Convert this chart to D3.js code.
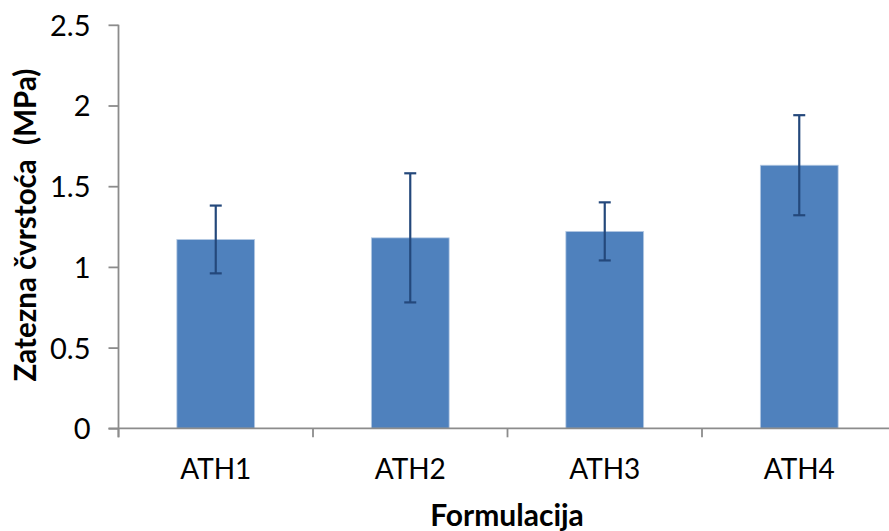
<!DOCTYPE html>
<html>
<head>
<meta charset="utf-8">
<script src="https://cdn.jsdelivr.net/npm/d3@7"></script>
<style>
  html, body { margin: 0; padding: 0; background: #fff; }
  svg { display: block; }
  text { font-family: Lato, "Open Sans", sans-serif; }
</style>
</head>
<body>
<svg id="chart" width="889" height="531"></svg>
<script>
// Tensile strength per formulation, with standard deviation
const categories = ["ATH1", "ATH2", "ATH3", "ATH4"];
const means = [1.17, 1.18, 1.22, 1.63];
const deviations = [0.21, 0.40, 0.18, 0.31];
const yTicks = [0, 0.5, 1, 1.5, 2, 2.5];
const yTitle = "Zatezna čvrstoća  (MPa)";
const xTitle = "Formulacija";

const data = categories.map((c, i) => ({ cat: c, mean: means[i], sd: deviations[i] }));

const svg = d3.select("#chart");
const plotLeft = 118.5, plotTop = 24.8, plotBottom = 428.3, step = 194.5;
const font = "Lato, 'Open Sans', sans-serif";

const x = d3.scaleBand()
  .domain(categories)
  .range([plotLeft, plotLeft + step * categories.length])
  .padding(0);

const y = d3.scaleLinear().domain([0, 2.5]).range([plotBottom, plotTop]);

const axisColor = "#8c8c8c";
const barW = x.bandwidth() * 0.4;

// bars
svg.append("g").selectAll("rect")
  .data(data)
  .join("rect")
  .attr("x", d => x(d.cat) + (x.bandwidth() - barW) / 2)
  .attr("y", d => y(d.mean))
  .attr("width", barW)
  .attr("height", d => y(0) - y(d.mean))
  .attr("fill", "#4f81bd")
  .attr("stroke", "#b7cbe4")
  .attr("stroke-width", 0.8);

// y axis
const yAxis = svg.append("g")
  .attr("transform", `translate(${plotLeft},0)`)
  .call(d3.axisLeft(y).tickValues(yTicks).tickSize(10).tickPadding(18)
    .tickFormat(d => String(d)));
yAxis.attr("font-family", font);
yAxis.select(".domain").attr("stroke", axisColor).attr("stroke-width", 1.8)
  .attr("d", `M0,${plotTop}V${plotBottom + 9}`);
yAxis.selectAll(".tick line").attr("stroke", axisColor).attr("stroke-width", 1.8);
yAxis.selectAll(".tick text")
  .attr("fill", "#000")
  .style("font-size", "29px")
  .attr("dy", "0.36em");

// x axis
const xAxis = svg.append("g")
  .attr("transform", `translate(0,${plotBottom})`)
  .call(d3.axisBottom(x).tickSize(0));
xAxis.attr("font-family", font);
xAxis.select(".domain").attr("stroke", axisColor).attr("stroke-width", 1.8)
  .attr("d", `M${plotLeft - 10},0H889`);
xAxis.selectAll(".tick text")
  .attr("fill", "#000")
  .attr("y", 51)
  .attr("dy", 0)
  .style("font-size", "28px");
// category boundary ticks
xAxis.append("g").selectAll("line")
  .data(categories)
  .join("line")
  .attr("x1", d => x(d)).attr("x2", d => x(d))
  .attr("y1", 0).attr("y2", 9)
  .attr("stroke", axisColor).attr("stroke-width", 1.8);

// error bars
const eb = svg.append("g").attr("stroke", "#24487b").attr("stroke-width", 2.2);
const cx = d => x(d.cat) + x.bandwidth() / 2;
eb.selectAll("line.v").data(data).join("line").attr("class", "v")
  .attr("x1", cx).attr("x2", cx)
  .attr("y1", d => y(d.mean + d.sd)).attr("y2", d => y(d.mean - d.sd));
eb.selectAll("line.t").data(data).join("line").attr("class", "t")
  .attr("x1", d => cx(d) - 6).attr("x2", d => cx(d) + 6)
  .attr("y1", d => y(d.mean + d.sd)).attr("y2", d => y(d.mean + d.sd));
eb.selectAll("line.b").data(data).join("line").attr("class", "b")
  .attr("x1", d => cx(d) - 6).attr("x2", d => cx(d) + 6)
  .attr("y1", d => y(d.mean - d.sd)).attr("y2", d => y(d.mean - d.sd));

// axis titles
svg.append("text")
  .attr("transform", "translate(36,225) rotate(-90)")
  .attr("text-anchor", "middle")
  .style("font-size", "29.5px")
  .style("font-weight", "bold")
  .style("white-space", "pre")
  .attr("xml:space", "preserve")
  .text(yTitle);

svg.append("text")
  .attr("x", 507)
  .attr("y", 526)
  .attr("text-anchor", "middle")
  .style("font-size", "30px")
  .style("font-weight", "bold")
  .text(xTitle);
</script>
</body>
</html>
